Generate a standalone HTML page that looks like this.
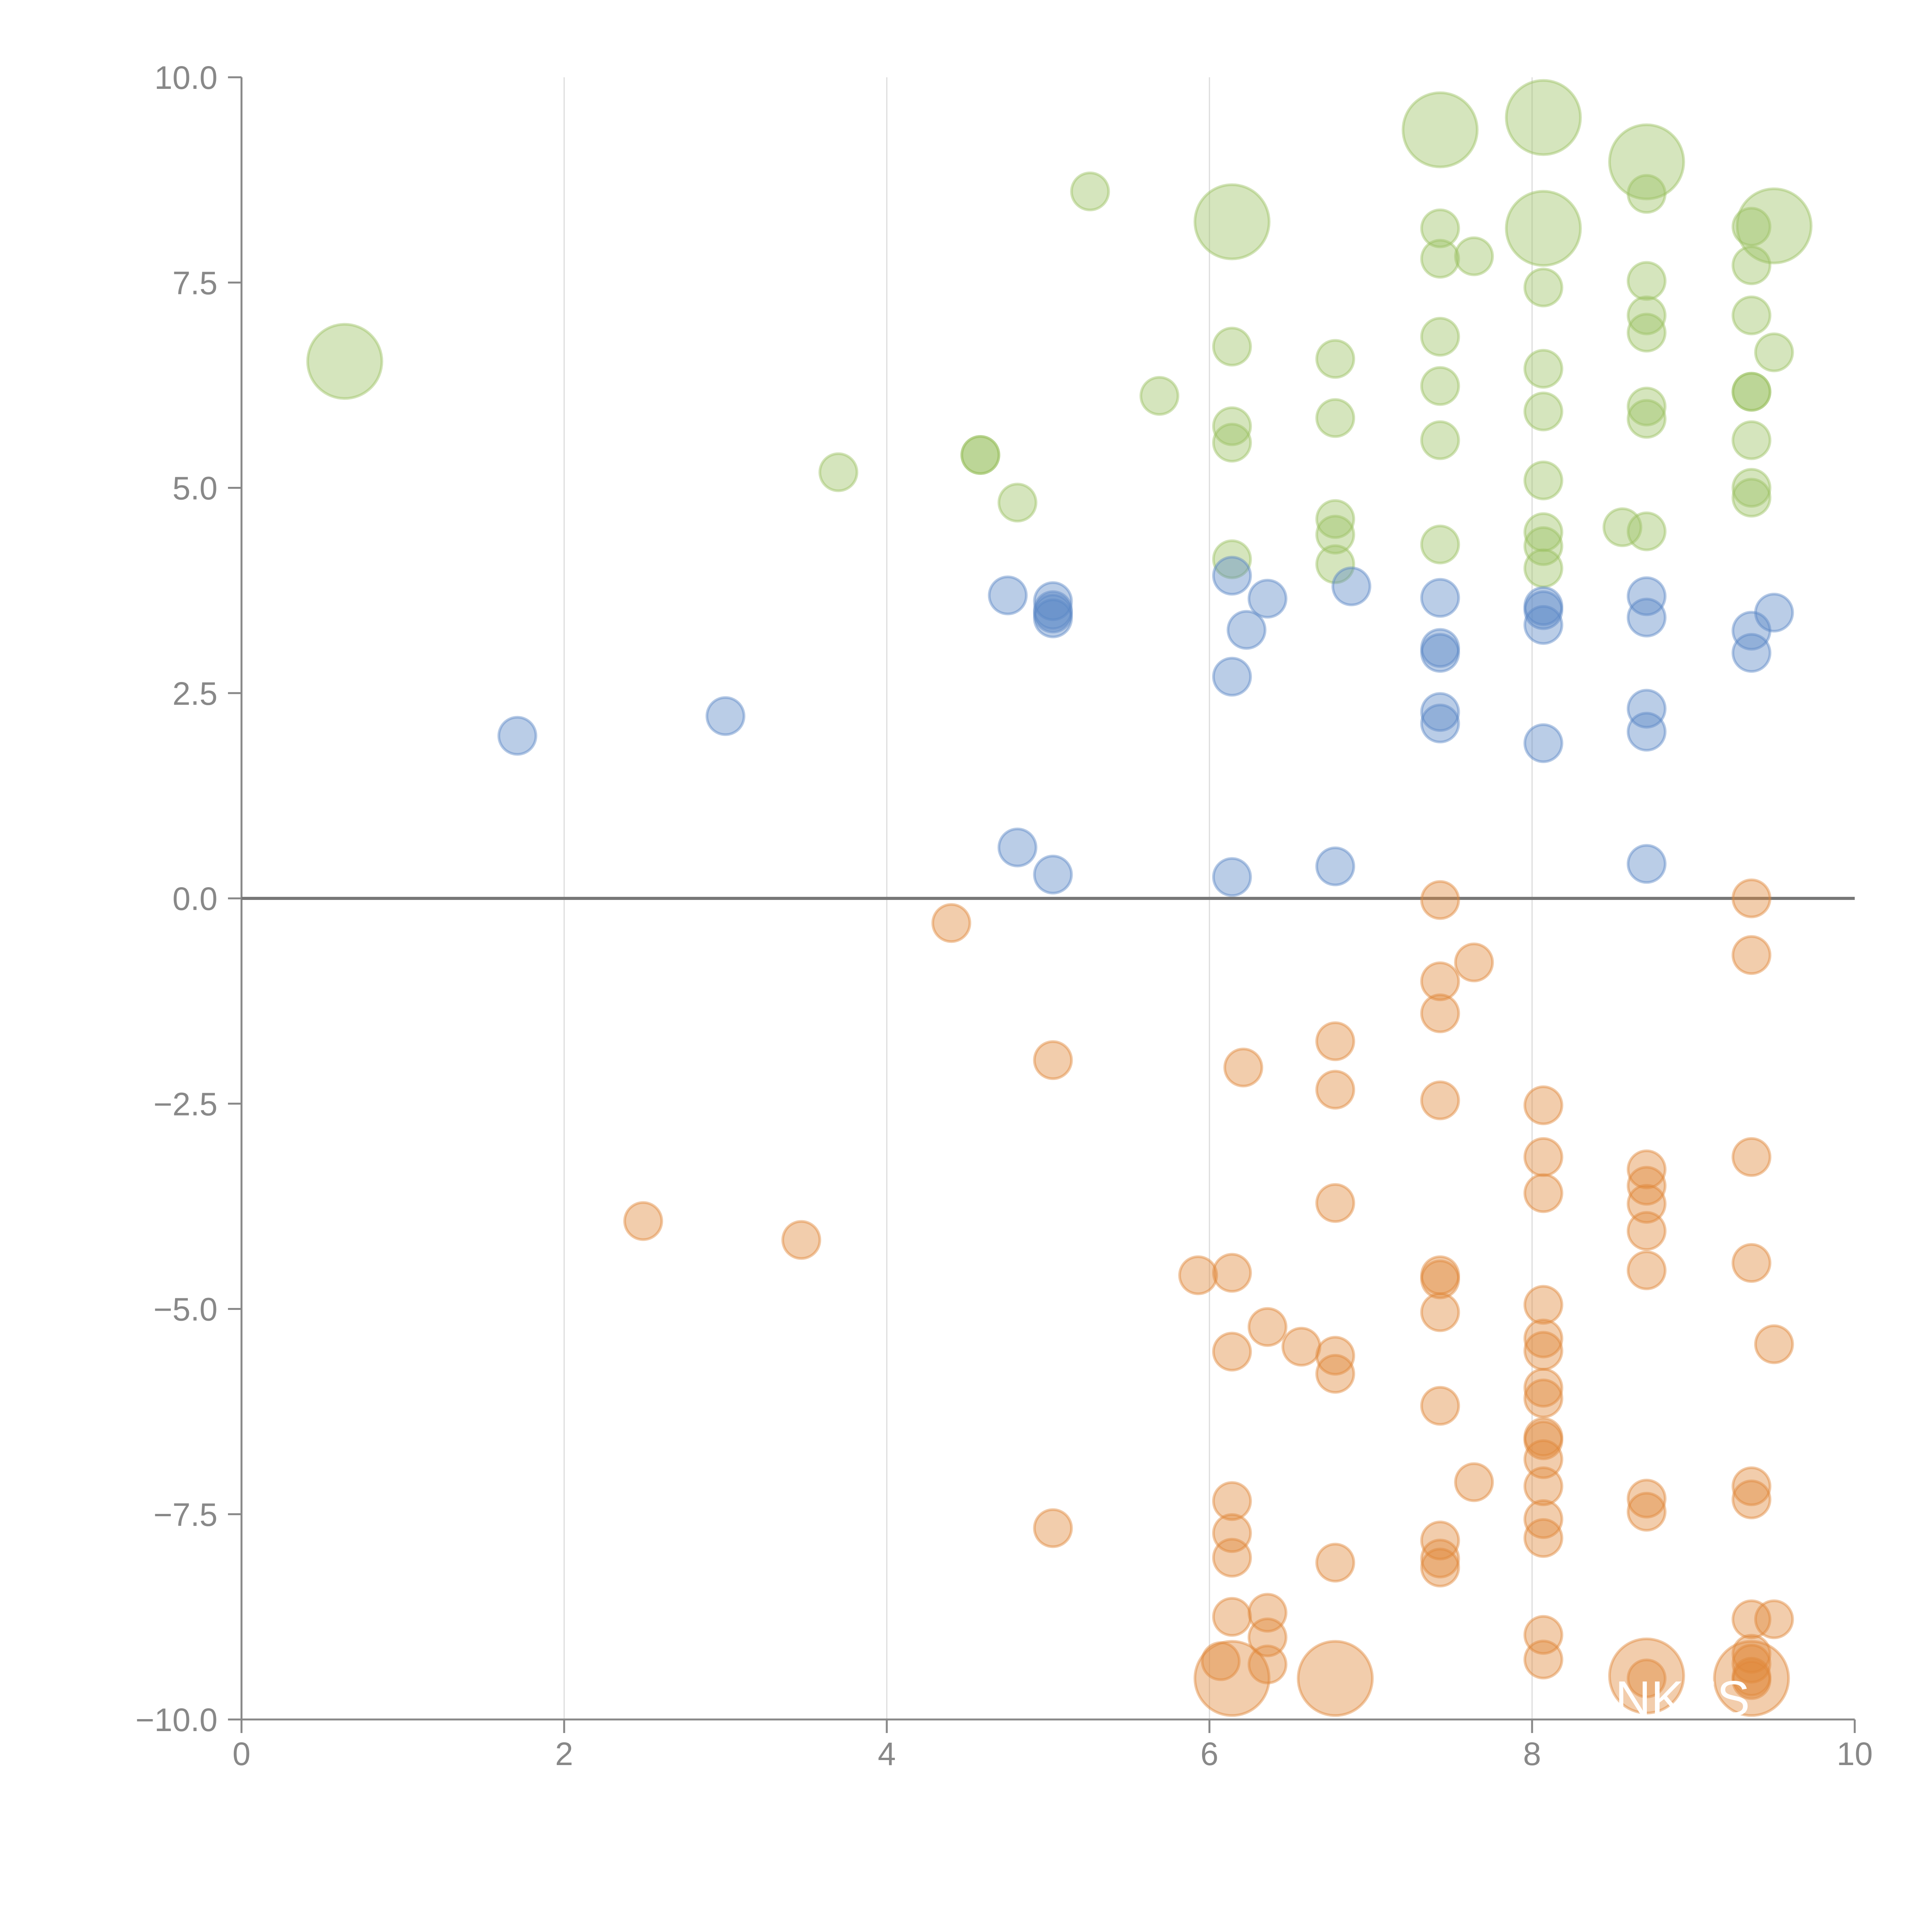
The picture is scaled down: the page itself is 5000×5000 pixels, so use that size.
<!DOCTYPE html>
<html><head><meta charset="utf-8"><style>
html,body{margin:0;padding:0;background:#fff;}
svg{display:block;}
text{font-family:"Liberation Sans",sans-serif;fill:#888;font-size:84px;}
text.lbl{fill:#fff;font-size:128px;}
</style></head><body>
<svg id="chart" width="5000" height="5000" viewBox="0 0 5000 5000" xmlns="http://www.w3.org/2000/svg">
<g id="grid"></g>
<g id="axes"></g>
<g id="marks"></g>
<g id="labels">
<text class="lbl" x="4390" y="806">O</text>
<text class="lbl" x="4340" y="1195">IX</text>
<text class="lbl" x="4180" y="4440">NKES</text>
</g>
</svg>
<script>
const xTicks=[0,2,4,6,8,10];
const yTicks=[-10,-7.5,-5,-2.5,0,2.5,5,7.5,10];
const yTickLabels=["\u221210.0","\u22127.5","\u22125.0","\u22122.5","0.0","2.5","5.0","7.5","10.0"];
const greenX=[0.64,5.26,6.14,7.43,8.07,8.71,8.71,8.07,9.50,7.43,7.43,7.64,9.36,9.36,8.71,8.07,9.36,8.71,8.71,9.50,6.14,6.78,7.43,7.43,8.07,5.69,9.36,9.36,8.71,8.71,8.07,6.78,6.14,6.14,7.43,9.36,4.58,4.58,3.70,4.81,8.07,9.36,9.36,6.78,6.78,8.07,8.07,7.43,8.56,8.71,6.14,6.78,8.07];
const greenY=[6.54,8.61,8.24,9.36,9.51,8.97,8.58,8.16,8.19,8.16,7.79,7.82,8.18,7.71,7.52,7.44,7.10,7.10,6.89,6.65,6.72,6.57,6.84,6.24,6.45,6.12,6.17,6.17,5.99,5.84,5.93,5.85,5.75,5.55,5.58,5.58,5.40,5.40,5.19,4.82,5.09,5.00,4.88,4.62,4.43,4.46,4.29,4.31,4.52,4.47,4.13,4.07,4.02];
const greenSize=[4,1,4,4,4,4,1,4,4,1,1,1,1,1,1,1,1,1,1,1,1,1,1,1,1,1,1,1,1,1,1,1,1,1,1,1,1,1,1,1,1,1,1,1,1,1,1,1,1,1,1,1,1];
const blueX=[1.71,3.00,4.75,5.03,5.03,5.03,5.03,6.14,6.36,6.23,6.88,6.14,7.43,7.43,7.43,7.43,7.43,8.07,8.07,8.07,8.07,8.71,8.71,8.71,8.71,9.36,9.36,9.50,4.81,5.03,6.14,6.78,8.71];
const blueY=[1.98,2.22,3.69,3.62,3.51,3.41,3.47,3.93,3.65,3.27,3.80,2.70,3.66,3.05,2.99,2.27,2.13,3.56,3.51,3.33,1.89,3.68,3.42,2.31,2.03,3.26,2.99,3.48,0.62,0.29,0.26,0.39,0.42];
const blueSize=blueX.map(()=>1);
const orangeX=[4.40,7.43,9.36,9.36,7.64,7.43,7.43,6.78,5.03,6.21,6.78,7.43,8.07,8.07,9.36,8.71,8.71,8.07,8.71,6.78,2.49,3.47,8.71,9.36,8.71,5.93,6.14,7.43,7.43,7.43,8.07,6.36,6.57,8.07,8.07,9.50,6.14,6.78,6.78,8.07,8.07,7.43,8.07,8.07,8.07,7.64,8.07,9.36,9.36,8.71,8.71,6.14,5.03,8.07,8.07,6.14,7.43,7.43,7.43,6.14,6.78,6.14,6.36,9.36,9.50,6.36,8.07,9.36,8.07,6.36,9.36,6.07,6.14,6.78,8.71,9.36,8.71,9.36,9.36];
const orangeY=[-0.30,-0.02,0,-0.69,-0.78,-1.01,-1.40,-1.74,-1.97,-2.06,-2.33,-2.46,-2.52,-3.15,-3.15,-3.30,-3.50,-3.59,-3.72,-3.71,-3.93,-4.16,-4.05,-4.44,-4.53,-4.59,-4.56,-4.59,-4.64,-5.04,-4.95,-5.22,-5.46,-5.36,-5.51,-5.43,-5.52,-5.57,-5.79,-5.96,-6.09,-6.18,-6.56,-6.60,-6.83,-7.11,-7.16,-7.16,-7.32,-7.31,-7.47,-7.34,-7.67,-7.56,-7.79,-7.73,-7.82,-8.04,-8.15,-8.03,-8.09,-8.75,-8.70,-8.78,-8.78,-9.00,-8.97,-9.20,-9.27,-9.33,-9.32,-9.29,-9.50,-9.50,-9.47,-9.50,-9.50,-9.48,-9.52];
const orangeSize=orangeX.map((v,i)=>(i>=72&&i<=75)?4:1);

const NS="http://www.w3.org/2000/svg";
const X0=625,X1=4800,Y0=4450,Y1=200;
function xs(v){return X0+(v-0)/(10-0)*(X1-X0);}
function ys(v){return Y0-(v+10)/20*(Y0-Y1);}
function mk(tag,attrs,parent){const e=document.createElementNS(NS,tag);for(const k in attrs)e.setAttribute(k,attrs[k]);parent.appendChild(e);return e;}
const grid=document.getElementById('grid'),axes=document.getElementById('axes'),marks=document.getElementById('marks');
xTicks.forEach(t=>{
  if(t>0&&t<10){const g=mk('line',{x1:xs(t),x2:xs(t),y1:Y1,y2:Y0,stroke:'#dcdcdc','stroke-width':3},grid);
  
  }
  const tk=mk('line',{x1:xs(t),x2:xs(t),y1:Y0,y2:Y0+35,stroke:'#888','stroke-width':5},axes);
  
  
  const tx=mk('text',{x:xs(t),y:4568,'text-anchor':'middle'},axes);tx.textContent=String(t);
  
  
});
yTicks.forEach((t,i)=>{
  const tk=mk('line',{x1:X0-35,x2:X0,y1:ys(t),y2:ys(t),stroke:'#888','stroke-width':5},axes);
  
  
  const tx=mk('text',{x:563,y:ys(t)+30,'text-anchor':'end'},axes);tx.textContent=yTickLabels[i];
  
  
});
const ya=mk('line',{x1:X0,x2:X0,y1:Y1,y2:Y0,stroke:'#888','stroke-width':5},axes);


const xa=mk('line',{x1:X0,x2:X1,y1:Y0,y2:Y0,stroke:'#888','stroke-width':5},axes);


const zl=mk('line',{x1:X0,x2:X1,y1:ys(0),y2:ys(0),stroke:'#777','stroke-width':8},axes);


function series(xsArr,ysArr,sz,color,name){
  xsArr.forEach((x,i)=>{
    const c=mk('circle',{cx:xs(x),cy:ys(ysArr[i]),r:48*Math.sqrt(sz[i]),fill:color,'fill-opacity':0.42,stroke:color,'stroke-opacity':0.45,'stroke-width':7},marks);
    
    
  });
}
series(greenX,greenY,greenSize,'#9cc162','bubble-green');
series(blueX,blueY,blueSize,'#5a87c6','bubble-blue');
series(orangeX,orangeY,orangeSize,'#e0883a','bubble-orange');
</script>
</body></html>
